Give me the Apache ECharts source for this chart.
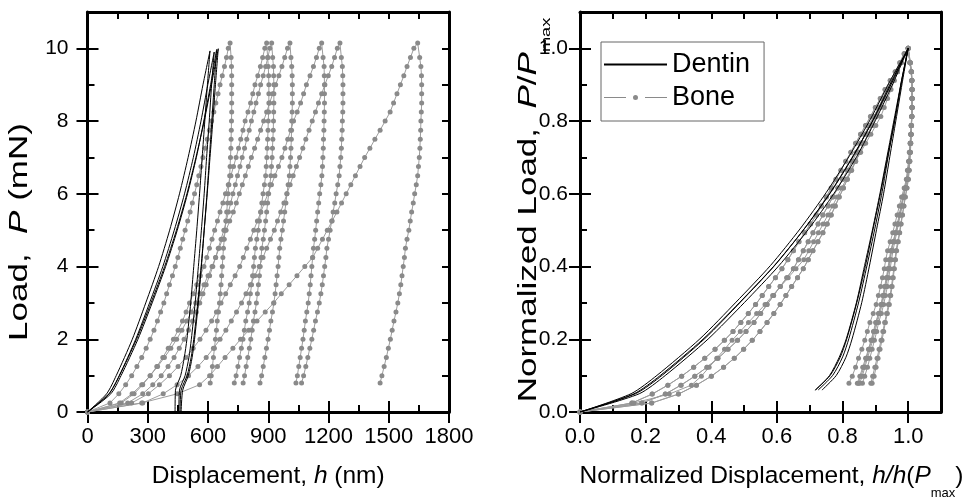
<!DOCTYPE html>
<html>
<head>
<meta charset="utf-8">
<script src="https://cdn.jsdelivr.net/npm/echarts@6/dist/echarts.min.js"></script>
<style>
  html, body { margin: 0; padding: 0; background: #fff; }
  #chart { width: 979px; height: 498px; }
</style>
</head>
<body>
<div id="chart"></div>
<script>
// Nanoindentation load–displacement curves for dentin (solid) and bone (dotted),
// raw on the left and normalised by the peak load/depth on the right.

// ---- Bone: load levels (mN) and depth (nm) recorded at each level ----
const boneLoadUp = [0, 0.25, 0.5, 0.75, 1, 1.25, 1.5, 1.75, 2, 2.25, 2.5, 2.75, 3, 3.25, 3.5, 3.75, 4, 4.25, 4.5, 4.75,
  5, 5.25, 5.5, 5.75, 6, 6.25, 6.5, 6.75, 7, 7.25, 7.5, 7.75, 8, 8.25, 8.5, 8.75, 9, 9.25, 9.5, 9.75, 10, 10.15];
const boneLoadDown = [10.15, 9.75, 9.5, 9.25, 9, 8.75, 8.5, 8.25, 8, 7.75, 7.5, 7.25, 7, 6.75, 6.5, 6.25, 6, 5.75, 5.5,
  5.25, 5, 4.75, 4.5, 4.25, 4, 3.75, 3.5, 3.25, 3, 2.75, 2.5, 2.25, 2, 1.75, 1.5, 1.25, 1, 0.8];

const boneLoadingH = [
  [0, 112, 156, 190, 220, 246, 270, 292, 312, 331, 348, 364, 380, 394, 408, 423, 437, 450, 462, 474,
   486, 499, 511, 522, 533, 544, 554, 565, 575, 586, 596, 607, 618, 629, 639, 650, 660, 671, 682, 692, 701, 710],
  [0, 168, 232, 275, 312, 345, 375, 402, 428, 451, 473, 491, 508, 526, 544, 562, 580, 594, 607, 620,
   633, 647, 660, 674, 687, 701, 714, 727, 740, 752, 763, 774, 785, 799, 812, 823, 834, 848, 861, 872, 883, 892],
  [0, 200, 275, 325, 367, 401, 431, 457, 481, 503, 523, 542, 559, 575, 591, 608, 624, 638, 651, 665,
   679, 691, 702, 713, 724, 736, 747, 759, 770, 782, 793, 805, 816, 828, 839, 851, 862, 875, 887, 898, 908, 917],
  [0, 160, 222, 270, 312, 349, 383, 415, 444, 470, 494, 517, 539, 560, 580, 600, 620, 638, 655, 672,
   690, 708, 726, 741, 756, 771, 786, 801, 816, 832, 847, 862, 877, 892, 907, 922, 937, 953, 968, 982, 996, 1008],
  [0, 220, 303, 358, 408, 451, 490, 526, 560, 590, 618, 642, 665, 688, 711, 735, 758, 776, 793, 811,
   828, 846, 863, 881, 898, 916, 933, 951, 968, 983, 997, 1012, 1026, 1044, 1061, 1076, 1090, 1108, 1125, 1140, 1154, 1166],
  [0, 275, 377, 446, 503, 550, 591, 627, 660, 689, 716, 742, 767, 789, 811, 833, 855, 874, 892, 911,
   930, 946, 962, 978, 993, 1009, 1024, 1040, 1056, 1072, 1087, 1103, 1119, 1135, 1150, 1166, 1182, 1199, 1216, 1230, 1244, 1257],
  [0, 270, 447, 558, 608, 647, 685, 724, 762, 803, 844, 885, 927, 965, 1004, 1043, 1082, 1121, 1146, 1170,
   1194, 1218, 1242, 1265, 1288, 1311, 1334, 1357, 1380, 1406, 1431, 1457, 1482, 1507, 1524, 1541, 1558, 1575, 1591, 1608, 1625, 1644]
];
const boneUnloadingH = [
  [710, 715, 717, 718, 718, 718, 718, 718, 717, 716, 715, 714, 712, 710, 708, 704, 700, 697, 693,
   689, 685, 681, 677, 674, 671, 668, 665, 661, 657, 652, 646, 642, 637, 632, 627, 622, 616, 611],
  [892, 897, 900, 902, 903, 903, 903, 902, 900, 899, 897, 895, 893, 890, 887, 881, 874, 868, 862,
   856, 850, 843, 836, 831, 827, 822, 817, 811, 805, 797, 788, 781, 774, 766, 757, 749, 740, 731],
  [917, 922, 926, 927, 928, 928, 928, 927, 926, 925, 923, 921, 919, 916, 913, 908, 902, 897, 892,
   887, 881, 875, 868, 864, 860, 856, 851, 846, 841, 834, 826, 820, 813, 806, 798, 790, 782, 775],
  [1008, 1013, 1017, 1019, 1020, 1020, 1020, 1019, 1017, 1016, 1015, 1013, 1011, 1008, 1005, 999, 993, 988, 982,
   976, 970, 963, 957, 953, 949, 944, 939, 934, 928, 921, 913, 906, 899, 891, 883, 875, 867, 859],
  [1166, 1173, 1178, 1179, 1180, 1180, 1180, 1179, 1178, 1177, 1175, 1174, 1172, 1170, 1167, 1162, 1156, 1151, 1146,
   1141, 1136, 1131, 1125, 1121, 1117, 1113, 1109, 1104, 1099, 1092, 1085, 1079, 1073, 1066, 1059, 1052, 1045, 1038],
  [1257, 1264, 1269, 1271, 1272, 1272, 1272, 1271, 1269, 1268, 1266, 1264, 1261, 1257, 1253, 1246, 1238, 1231, 1223,
   1216, 1208, 1200, 1192, 1187, 1181, 1175, 1169, 1162, 1154, 1145, 1135, 1126, 1117, 1107, 1097, 1087, 1076, 1066],
  [1644, 1654, 1660, 1663, 1664, 1664, 1664, 1662, 1660, 1659, 1657, 1655, 1652, 1648, 1644, 1637, 1629, 1622, 1614,
   1607, 1600, 1591, 1583, 1578, 1572, 1566, 1560, 1553, 1545, 1536, 1526, 1517, 1508, 1498, 1488, 1477, 1466, 1457]
];

// ---- Dentin: load levels (mN), peak values and depths (nm) ----
const dentinLoadUp = [0, 0.5, 1, 2, 3, 4, 5, 6, 7, 8, 9];
const dentinLoadDown = [9, 8, 7, 6, 5, 4, 3, 2, 1.5, 1, 0.6];
const dentinPeakP = [9.93, 9.90, 9.97, 9.99];
const dentinPeakH = [610, 631, 643, 651];
const dentinLoadingH = [
  [0, 95, 143, 223, 290, 354, 409, 458, 501, 540, 575],
  [0, 107, 158, 240, 309, 375, 432, 483, 527, 565, 599],
  [0, 116, 167, 251, 322, 389, 447, 498, 542, 579, 613],
  [0, 107, 159, 244, 316, 384, 443, 495, 540, 581, 617]
];
const dentinUnloadingH = [
  [597, 584, 571, 558, 544, 529, 514, 495, 482, 464, 438],
  [618, 606, 593, 581, 567, 552, 536, 517, 505, 486, 458],
  [631, 619, 607, 595, 581, 567, 552, 533, 521, 502, 474],
  [637, 624, 610, 596, 581, 566, 549, 529, 516, 496, 466]
];
// depth where the recorded load drops back to zero after unloading
const dentinTailH = [436, 455, 466, 461];

// ---- Axis tick labels ----
const dispTicks = [0, 300, 600, 900, 1200, 1500, 1800];
const loadTicks = [0, 2, 4, 6, 8, 10];
const normTicks = [0, 0.2, 0.4, 0.6, 0.8, 1.0];

const FONT = '"Liberation Sans", Arial, Helvetica, sans-serif';
const BONE_DOT = '#8a8a8a';
const BONE_LINE = '#9c9c9c';

function richFor(size) {
  return {
    n: { fontSize: size, fontFamily: FONT, color: '#000', lineHeight: 30, verticalAlign: 'top' },
    i: { fontSize: size, fontFamily: FONT, fontStyle: 'italic', color: '#000', lineHeight: 30, verticalAlign: 'top' },
    s: { fontSize: 13, fontFamily: FONT, color: '#000', lineHeight: 14, padding: [23, 0, 0, 0], verticalAlign: 'top' }
  };
}
const richX = richFor(24.5);
const richY = richFor(25);

// One side of a frame: an axis carrying the line, minor ticks and labels,
// plus an overlaid axis that only draws the longer major ticks.
function sideAxes(dim, gridIndex, min, max, minorStep, majors, decimals, labelMargin, labelSize, name, nameGap, namePad) {
  const positions = dim === 'x' ? ['bottom', 'top'] : ['left', 'right'];
  const out = [];
  positions.forEach((pos, k) => {
    const primary = k === 0;
    out.push({
      type: 'value', gridIndex, position: pos, min, max, interval: minorStep,
      axisLine: { show: true, onZero: false, lineStyle: { color: '#000', width: 3 } },
      axisTick: { show: true, inside: true, length: 7, lineStyle: { color: '#000', width: 2 } },
      axisLabel: {
        show: primary, customValues: majors, margin: labelMargin,
        formatter: v => Number(v).toFixed(decimals),
        fontSize: labelSize, fontFamily: FONT, color: '#000'
      },
      splitLine: { show: false },
      name: primary ? name : '',
      nameLocation: 'middle', nameGap,
      nameMoveOverlap: false,
      nameTextStyle: { rich: richX, padding: namePad || 0 }
    });
    out.push({
      type: 'value', gridIndex, position: pos, min, max, interval: minorStep,
      axisLine: { show: false },
      axisTick: { show: true, inside: true, length: 11, customValues: majors, lineStyle: { color: '#000', width: 2 } },
      axisLabel: { show: false },
      splitLine: { show: false }
    });
  });
  return out;
}

const xAxes = [
  ...sideAxes('x', 0, 0, 1800, 150, dispTicks, 0, 14, 22, '{n|Displacement, }{i|h}{n| (nm)}', 52),
  ...sideAxes('x', 1, 0, 1.1, 0.1, normTicks, 1, 14, 22,
    '{n|Normalized Displacement, }{i|h/h}{n|(}{i|P}{s|max}{n|)}', 52, [0, 0, 0, 22])
];
const yAxes = [
  ...sideAxes('y', 0, 0, 11, 1, loadTicks, 0, 19, 21, '', 0),
  ...sideAxes('y', 1, 0, 1.1, 0.1, normTicks, 1, 12, 21, '', 0)
];

const series = [];

// Bone curves (drawn first so the dentin lines sit on top)
boneLoadingH.forEach((up, c) => {
  const down = boneUnloadingH[c];
  const raw = up.map((h, j) => [h, boneLoadUp[j]])
    .concat(down.slice(1).map((h, j) => [h, boneLoadDown[j + 1]]));
  const hMax = down[0], pMax = boneLoadDown[0];
  const style = {
    type: 'line', name: 'Bone', symbol: 'circle', symbolSize: 5, showSymbol: true,
    itemStyle: { color: BONE_DOT }, lineStyle: { color: BONE_LINE, width: 1 },
    emphasis: { disabled: true }, z: 2
  };
  series.push(Object.assign({}, style, { xAxisIndex: 0, yAxisIndex: 0, data: raw }));
  series.push(Object.assign({}, style, {
    xAxisIndex: 4, yAxisIndex: 4, data: raw.map(([h, p]) => [h / hMax, p / pMax])
  }));
});

// Dentin curves
dentinLoadingH.forEach((up, c) => {
  const hMax = dentinPeakH[c], pMax = dentinPeakP[c];
  const curve = up.map((h, j) => [h, dentinLoadUp[j]])
    .concat([[hMax, pMax]])
    .concat(dentinUnloadingH[c].map((h, j) => [h, dentinLoadDown[j]]));
  const style = {
    type: 'line', name: 'Dentin', symbol: 'none', smooth: 0.25,
    itemStyle: { color: '#000' }, lineStyle: { color: '#000', width: 1 },
    emphasis: { disabled: true }, z: 3
  };
  series.push(Object.assign({}, style, {
    xAxisIndex: 0, yAxisIndex: 0, data: curve.concat([[dentinTailH[c], 0]])
  }));
  series.push(Object.assign({}, style, {
    xAxisIndex: 4, yAxisIndex: 4, data: curve.map(([h, p]) => [h / hMax, p / pMax])
  }));
});

// Vertical axis titles, set as tall rotated text
function yTitle(text, x, y) {
  return {
    type: 'text', x, y, rotation: Math.PI / 2, scaleX: 1.4, silent: true,
    style: { text, rich: richY, align: 'center', verticalAlign: 'middle' }
  };
}

// legend key for bone: short line, dot, short line
const BONE_KEY = 'path://M0,2 H22 V3 H0 Z M41,2 H63 V3 H41 Z M34,2.5 A2.5,2.5 0 1 1 29,2.5 A2.5,2.5 0 1 1 34,2.5 Z';

const chart = echarts.init(document.getElementById('chart'), null, { renderer: 'canvas' });
chart.setOption({
  animation: false,
  backgroundColor: '#fff',
  grid: [
    { left: 87.5, top: 12, width: 361.5, height: 400, outerBoundsMode: 'none', containLabel: false },
    { left: 580, top: 12, width: 361, height: 400, outerBoundsMode: 'none', containLabel: false }
  ],
  xAxis: xAxes,
  yAxis: yAxes,
  legend: {
    left: 601, top: 42, orient: 'vertical',
    data: [
      { name: 'Dentin', itemStyle: { opacity: 0 } },
      { name: 'Bone', icon: BONE_KEY, itemStyle: { color: BONE_DOT } }
    ],
    padding: [9, 14, 10, 2], itemGap: 6, itemWidth: 63, itemHeight: 5,
    borderColor: '#666', borderWidth: 1, backgroundColor: '#fff',
    textStyle: { fontSize: 27, fontFamily: FONT, color: '#000' },
    selectedMode: false
  },
  graphic: [
    yTitle('{n|Load,  }{i|P}{n| (mN)}', 23, 232),
    yTitle('{n|Normalized Load,  }{i|P}{n|/}{i|P}{s|max}', 532, 210)
  ],
  series
});
</script>
</body>
</html>
